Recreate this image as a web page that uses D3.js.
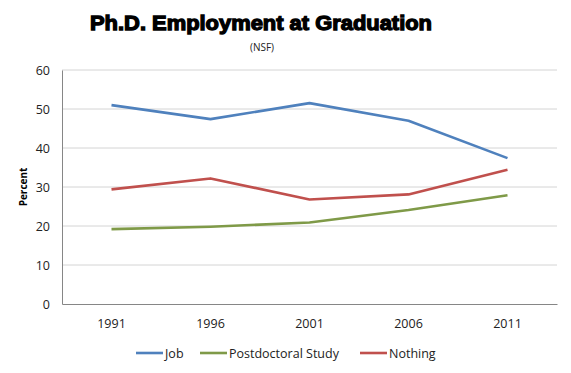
<!DOCTYPE html>
<html>
<head>
<meta charset="utf-8">
<script src="https://cdn.jsdelivr.net/npm/d3@7"></script>
<style>
  body { margin: 0; background: #fff; }
  text { font-family: "Open Sans", "Liberation Sans", sans-serif; }
</style>
</head>
<body>
<script>
// Chart data
var years = ["1991", "1996", "2001", "2006", "2011"];
var jobValues = [51.0, 47.4, 51.5, 47.0, 37.4];
var postdocValues = [19.2, 19.8, 20.9, 24.1, 27.9];
var nothingValues = [29.4, 32.2, 26.8, 28.1, 34.4];
var seriesNames = ["Job", "Postdoctoral Study", "Nothing"];
var seriesColors = ["#4F81BD", "#7F9A48", "#C0504D"];
var yTicks = [0, 10, 20, 30, 40, 50, 60];

var svgWidth = 571;
var svgHeight = 373;

var chartMargin = { top: 70, right: 14, bottom: 69, left: 62 };
var chartWidth = svgWidth - chartMargin.left - chartMargin.right;
var chartHeight = svgHeight - chartMargin.top - chartMargin.bottom;

var svg = d3.select("body")
  .append("svg")
  .attr("width", svgWidth)
  .attr("height", svgHeight);

// Title
svg.append("text")
  .attr("x", 261)
  .attr("y", 30)
  .attr("text-anchor", "middle")
  .style("font-family", "'Liberation Sans', Arial, sans-serif")
  .style("font-weight", "bold")
  .style("font-size", "21px")
  .style("stroke", "#000")
  .style("stroke-width", "1.3px")
  .attr("textLength", 342)
  .attr("lengthAdjust", "spacingAndGlyphs")
  .text("Ph.D. Employment  at Graduation");

svg.append("text")
  .attr("x", 262)
  .attr("y", 51)
  .attr("text-anchor", "middle")
  .style("font-size", "10px")
  .style("fill", "#222")
  .text("(NSF)");

var chartGroup = svg.append("g")
  .attr("transform", `translate(${chartMargin.left}, ${chartMargin.top})`);

var xScale = d3.scaleBand()
  .domain(years)
  .range([0, chartWidth]);

var yScale = d3.scaleLinear()
  .domain([0, 60])
  .range([chartHeight, 0]);

// Gridlines
chartGroup.selectAll(".grid")
  .data(yTicks.slice(1))
  .enter()
  .append("line")
  .attr("x1", 0)
  .attr("x2", chartWidth)
  .attr("y1", d => yScale(d))
  .attr("y2", d => yScale(d))
  .attr("stroke", "#d4d4d4")
  .attr("stroke-width", 1);

// Y axis
var yAxis = d3.axisLeft(yScale).tickValues(yTicks).tickSize(0).tickPadding(12);
var yG = chartGroup.append("g").call(yAxis);
yG.select(".domain").attr("stroke", "#868686");
yG.selectAll("text").style("font-size", "12.5px").style("fill", "#222")
  .style("font-family", "'Open Sans', sans-serif");

// X axis
var xAxis = d3.axisBottom(xScale).tickSize(0).tickPadding(15);
var xG = chartGroup.append("g")
  .attr("transform", `translate(0, ${chartHeight})`)
  .call(xAxis);
xG.select(".domain").attr("stroke", "#868686");
xG.selectAll("text").style("font-size", "12.5px").style("fill", "#222");

// Y label
svg.append("text")
  .attr("transform", "translate(27, 187) rotate(-90)")
  .attr("text-anchor", "middle")
  .style("font-size", "10px")
  .style("font-weight", "bold")
  .text("Percent");

var allSeries = [jobValues, postdocValues, nothingValues];
var line = d3.line()
  .x((d, i) => xScale(years[i]) + xScale.bandwidth() / 2)
  .y(d => yScale(d));

chartGroup.selectAll(".series")
  .data(allSeries)
  .enter()
  .append("path")
  .attr("class", "series")
  .attr("fill", "none")
  .attr("stroke", (d, i) => seriesColors[i])
  .attr("stroke-width", 2.6)
  .attr("stroke-linejoin", "round")
  .attr("d", line);

// Legend
var legendX = [136, 200, 360];
var legend = svg.selectAll(".legend")
  .data(seriesNames)
  .enter()
  .append("g")
  .attr("transform", (d, i) => `translate(${legendX[i]}, 353)`);
legend.append("line")
  .attr("x1", 0).attr("x2", 27)
  .attr("stroke", (d, i) => seriesColors[i])
  .attr("stroke-width", 2.6);
legend.append("text")
  .attr("x", 29)
  .attr("y", 4.5)
  .style("font-size", "12.5px")
  .style("fill", "#222")
  .text(d => d);
</script>
</body>
</html>
